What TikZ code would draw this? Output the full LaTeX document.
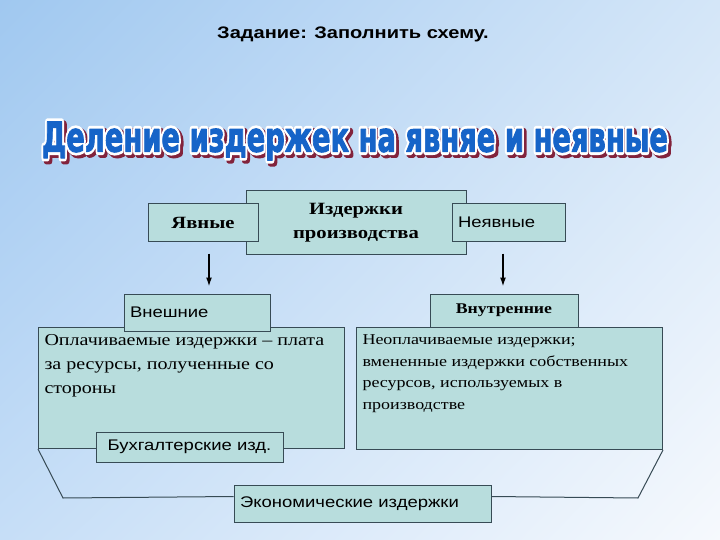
\documentclass[tikz,border=0pt]{standalone}
\usepackage{fontspec}
\setmainfont{Liberation Serif}[FakeStretch=1.2]
\setsansfont{Liberation Sans}[FakeStretch=1.2]
\newfontfamily\headfont{DejaVu Sans}
\usetikzlibrary{arrows.meta,shadings}

\definecolor{boxfill}{RGB}{184,221,221}
\definecolor{boxline}{RGB}{55,75,85}
\definecolor{headblue}{RGB}{22,100,200}
\definecolor{headshadow}{RGB}{130,35,60}
\definecolor{skyUL}{RGB}{160,200,240}
\definecolor{skyUR}{RGB}{212,230,248}
\definecolor{skyLL}{RGB}{198,222,247}
\definecolor{skyLR}{RGB}{246,249,253}
\newcommand\headtitle[1]{\resizebox{626pt}{30pt}{\headfont\bfseries
    \special{pdf:literal direct 2 Tr #1 w 1 j}Деление издержек на явняе и неявные\special{pdf:literal direct 0 Tr}}}

\begin{document}
\begin{tikzpicture}[x=1pt,y=-1pt,
    box/.style={draw=boxline, fill=boxfill, line width=1pt, inner sep=0pt},
    tag/.style={box, font=\sffamily\fontsize{15.4}{18}\selectfont, align=left, inner xsep=6pt, minimum height=37pt},
    bold/.style={box, font=\bfseries\fontsize{17.2}{24}\selectfont, align=center},
    note/.style={box, anchor=north west, inner xsep=6pt, inner ysep=7pt},
    arrow/.style={-{Latex[length=9pt,width=6pt]}, line width=1.5pt, black},
    link/.style={draw=boxline, line width=1pt},
    headtext/.style={inner sep=0pt}]
    \useasboundingbox (0,0) rectangle (720,540);
    \shade[upper left=skyUL, upper right=skyUR, lower left=skyLL, lower right=skyLR]
        (0,0) rectangle (720,540);

    \node (task) at (353,34) {\sffamily\bfseries\fontsize{16.7}{20}\selectfont Задание: Заполнить схему.};

    \node[headtext, headshadow] (shadow) at (357.5,143.5) {\headtitle{1.8}};
    \node[headtext, white] (halo) at (355,141) {\headtitle{1.6}};
    \node[headtext, headblue] (heading) at (355,141) {\headtitle{0.25}};

    \node[bold, minimum width=220pt, minimum height=63pt] (prod) at (356,222.5) {Издержки\\производства};
    \node[bold, minimum width=110pt, minimum height=37pt] (explicit) at (203,222.5) {Явные};
    \node[tag, text width=101pt] (implicit) at (508.5,222.5) {Неявные};

    \node[note, font=\fontsize{16.7}{24}\selectfont] (paid) at (38,327)
        {\parbox[c][107pt][t]{294pt}{\raggedright Оплачиваемые издержки – плата\\за ресурсы, полученные со\\стороны}};
    \node[note, font=\fontsize{15}{21.7}\selectfont] (unpaid) at (356,327)
        {\parbox[c][108pt][t]{294pt}{\raggedright Неоплачиваемые издержки;\\вмененные издержки собственных\\ресурсов, используемых в\\производстве}};

    \node[tag, text width=134pt] (outer) at (197,312.5) {Внешние};
    \node[bold, font=\bfseries\fontsize{14.8}{18}\selectfont, minimum width=148pt, minimum height=33pt] (inner) at (504,310.5) {Внутренние};
    \node[box, font=\sffamily\fontsize{15.4}{18}\selectfont, minimum width=187pt, minimum height=30pt] (acct) at (189.5,447) {Бухгалтерские изд.};
    \node[tag, text width=245pt] (econ) at (362.5,503.5) {Экономические издержки};

    \draw[arrow, shorten <=12pt, shorten >=7pt] ([xshift=6pt]explicit.south) -- ([xshift=6pt]explicit.south |- outer.north);
    \draw[arrow, shorten <=12pt, shorten >=7pt] ([xshift=-5.5pt]implicit.south) -- ([xshift=-5.5pt]implicit.south |- inner.north);

    \draw[link] (paid.south west) -- ++(25,49) -- ([yshift=7pt]econ.west);
    \draw[link] (unpaid.south east) -- ++(-25,48) -- ([yshift=7pt]econ.east);
\end{tikzpicture}
\end{document}
